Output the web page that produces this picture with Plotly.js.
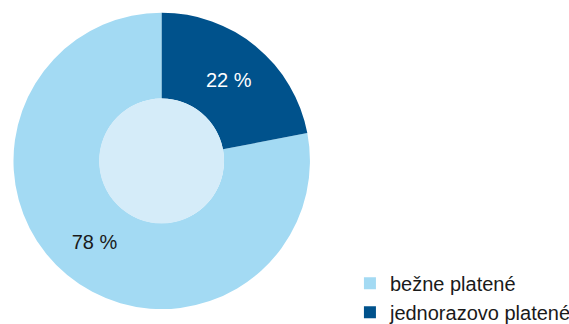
<!DOCTYPE html>
<html>
<head>
<meta charset="utf-8">
<script src="https://cdn.plot.ly/plotly-3.0.1.min.js"></script>
<style>html,body{margin:0;padding:0;background:#fff;}#chart{width:569px;height:324px;}</style>
</head>
<body>
<div id="chart"></div>
<script>
const labels = ["bežne platené", "jednorazovo platené"];
const values = [78, 22];
const sliceColors = ["#a3daf3", "#00528c"];
const textColors = ["#1a1a1a", "#ffffff"];

const trace = {
  type: "pie",
  labels: labels,
  values: values,
  sort: false,
  direction: "clockwise",
  rotation: 79.2,
  hole: 0.42,
  marker: {colors: sliceColors, line: {width: 0}},
  texttemplate: "%{value} %",
  textposition: "inside",
  insidetextorientation: "horizontal",
  textfont: {color: textColors, size: 20, family: "Liberation Sans, Arial, sans-serif"},
  domain: {x: [0.0234, 0.545], y: [0.046, 0.961]},
  hoverinfo: "none"
};

const layout = {
  width: 569, height: 324,
  margin: {l: 0, r: 0, t: 0, b: 0, autoexpand: false},
  paper_bgcolor: "#ffffff",
  font: {family: "Liberation Sans, Arial, sans-serif", color: "#1a1a1a", size: 20},
  showlegend: true,
  legend: {x: 0.615, xanchor: "left", y: 0.186, yanchor: "top", font: {size: 20, color: "#1a1a1a"}, bgcolor: "rgba(0,0,0,0)", tracegroupgap: 0},
  shapes: [{
    type: "circle", xref: "paper", yref: "paper",
    x0: 0.1742, x1: 0.3938, y0: 0.3105, y1: 0.6963,
    fillcolor: "#d5ecf9", line: {width: 0}, layer: "above"
  }]
};

Plotly.newPlot("chart", [trace], layout, {displayModeBar: false, staticPlot: true});
</script>
</body>
</html>
